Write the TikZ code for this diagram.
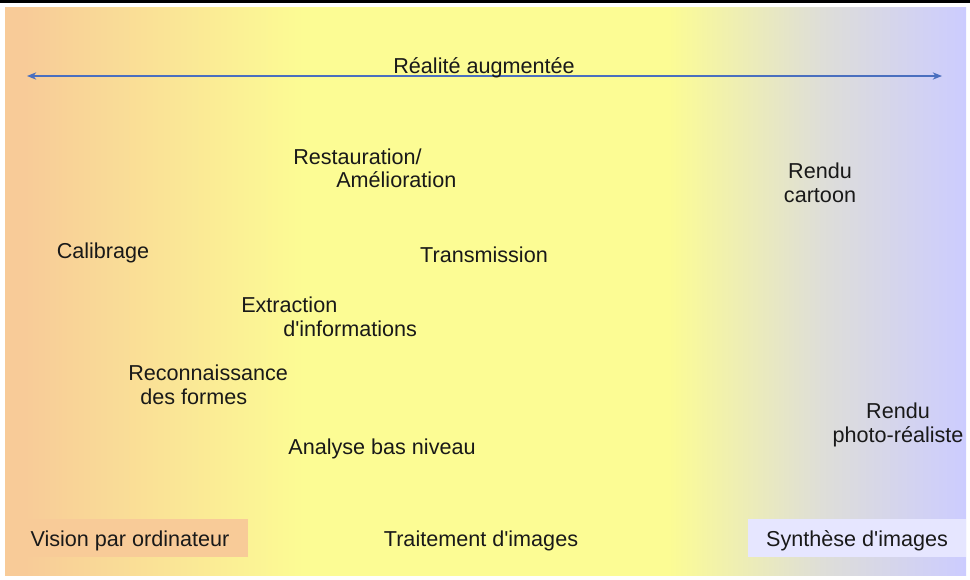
\documentclass[tikz,border=0pt]{standalone}
\usepackage{fontspec}
\setmainfont{Liberation Sans}
\usetikzlibrary{arrows.meta}
\definecolor{orangebg}{HTML}{F8CB98}
\definecolor{yellowbg}{HTML}{FCFC94}
\definecolor{lavbg}{HTML}{CCCCFF}
\definecolor{lavbox}{HTML}{E6E6FF}
\definecolor{midgray}{HTML}{DEDED8}
\definecolor{arrowblue}{HTML}{4A6FBF}
\pgfdeclarehorizontalshading{bgshade}{100bp}{
  color(0bp)=(orangebg);
  color(26bp)=(orangebg);
  color(40.5bp)=(yellowbg);
  color(59.5bp)=(yellowbg);
  color(67.5bp)=(midgray);
  color(75bp)=(lavbg);
  color(100bp)=(lavbg)}
\begin{document}
\begin{tikzpicture}[x=0.75pt,y=-0.75pt,
  lbl/.style={font=\fontsize{16.2}{19}\selectfont, inner sep=0pt, text=black!90},
  lblc/.style={lbl, anchor=base},
  lbll/.style={lbl, anchor=base west}]
\useasboundingbox (0,0) rectangle (970,579);
\fill[white] (0,0) rectangle (970,579);
\fill[black] (0,0) rectangle (970,2.6);
\shade[shading=bgshade] (5,7) rectangle (966,575);
% arrow
\coordinate (aL) at (27,76);
\coordinate (aR) at (942,76);
\draw[arrowblue, line width=0.9pt, {Stealth[length=7pt,width=5.5pt]}-{Stealth[length=7pt,width=5.5pt]}] (aL) -- (aR);
\node[lblc] (ra) at (484,73) {Réalité augmentée};
% labels
\node[lbll] (rest1) at (293,164) {Restauration/};
\node[lbll] (rest2) at (336,187) {Amélioration};
\node[lblc] (rc1) at (820,178) {Rendu};
\node[lblc] (rc2) at (820,202) {cartoon};
\node[lblc] (cal) at (103,258) {Calibrage};
\node[lblc] (trans) at (484,262) {Transmission};
\node[lbll] (ext1) at (241,312) {Extraction};
\node[lbll] (ext2) at (283,336) {d\textquotesingle informations};
\node[lbll] (rec1) at (128,380) {Reconnaissance};
\node[lbll] (rec2) at (140,404) {des formes};
\node[lblc] (abn) at (382,454) {Analyse bas niveau};
\node[lblc] (rp1) at (898,418) {Rendu};
\node[lblc] (rp2) at (898,442) {photo-réaliste};
% categories
\fill[orangebg] (5,519) rectangle (248,557);
\fill[lavbox] (748,519) rectangle (966,557);
\node[lblc] (vis) at (130,546) {Vision par ordinateur};
\node[lblc] (trt) at (481,546) {Traitement d\textquotesingle images};
\node[lblc] (syn) at (857,546) {Synthèse d\textquotesingle images};
\end{tikzpicture}
\end{document}
